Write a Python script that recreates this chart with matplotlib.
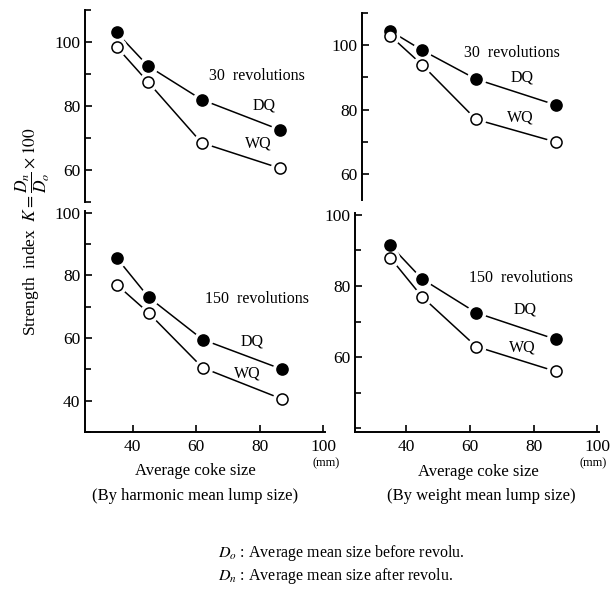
import matplotlib
matplotlib.use("Agg")
import matplotlib.pyplot as plt
from matplotlib.ticker import MultipleLocator

plt.rcParams['font.family'] = ['Liberation Serif', 'DejaVu Serif']
plt.rcParams['mathtext.fontset'] = 'stix'

# coke size (mm) for each sample
size = [35, 45, 62, 87]

# by harmonic mean lump size
hm_dq_30 = [103, 92.5, 82, 72.5]
hm_wq_30 = [98.5, 87.5, 68.5, 60.5]
hm_dq_150 = [85.5, 73, 59.5, 50]
hm_wq_150 = [77, 68, 50.5, 40.5]

# by weight mean lump size
wt_dq_30 = [104.5, 98.5, 89.5, 81.5]
wt_wq_30 = [103, 94, 77, 70]
wt_dq_150 = [91.5, 82, 72.5, 65]
wt_wq_150 = [88, 77, 63, 56]

W, H = 611, 592
fig = plt.figure(figsize=(W / 100, H / 100), dpi=100)


def px_axes(left, top, right, bottom):
    return fig.add_axes([left / W, 1 - bottom / H, (right - left) / W, (bottom - top) / H])


def ftext(x, y, s, **kw):
    fig.text(x / W, 1 - y / H, s, **kw)


def draw(ax, dq, wq, xlim, ylim, yticks, show_x):
    for vals, face in ((dq, 'black'), (wq, 'white')):
        ax.plot(size, vals, color='black', lw=1.1, zorder=1)
        ax.plot(size, vals, 'o', ms=13, mfc='white', mec='white', zorder=2)
        ax.plot(size, vals, 'o', ms=8, mfc=face, mec='black', mew=1.1, zorder=3)
    ax.set_xlim(*xlim)
    ax.set_ylim(*ylim)
    ax.set_yticks(yticks)
    ax.yaxis.set_minor_locator(MultipleLocator(10))
    for s in ('top', 'right'):
        ax.spines[s].set_visible(False)
    ax.spines['left'].set_linewidth(1.4)
    ax.tick_params(axis='y', which='both', direction='in', labelsize=12.5, width=1.2)
    ax.tick_params(axis='y', which='major', length=5)
    ax.tick_params(axis='y', which='minor', length=4)
    if show_x:
        ax.set_xticks([40, 60, 80, 100])
        ax.spines['bottom'].set_linewidth(1.4)
        ax.tick_params(axis='x', direction='in', labelsize=12.5, length=5, width=1.2, pad=5)
    else:
        ax.spines['bottom'].set_visible(False)
        ax.set_xticks([])
    ax.patch.set_visible(False)


ax1 = px_axes(85, 10, 323, 202)
draw(ax1, hm_dq_30, hm_wq_30, (25, 100.5), (50, 110), [60, 80, 100], False)
ax2 = px_axes(85, 211, 325, 432)
draw(ax2, hm_dq_150, hm_wq_150, (25, 100.5), (30, 100.5), [40, 60, 80, 100], True)
ax3 = px_axes(362, 13, 597, 200)
draw(ax3, wt_dq_30, wt_wq_30, (26.2, 100), (52, 110), [60, 80, 100], False)
ax4 = px_axes(355, 213, 599, 432)
draw(ax4, wt_dq_150, wt_wq_150, (24, 100.5), (39, 100.5), [60, 80, 100], True)

fs = 11.5
ftext(257, 76, '30  revolutions', fontsize=fs, ha='center', va='center')
ftext(264, 105, 'DQ', fontsize=fs, ha='center', va='center')
ftext(258, 143, 'WQ', fontsize=fs, ha='center', va='center')
ftext(257, 299, '150  revolutions', fontsize=fs, ha='center', va='center')
ftext(252, 342, 'DQ', fontsize=fs, ha='center', va='center')
ftext(247, 374, 'WQ', fontsize=fs, ha='center', va='center')
ftext(512, 53, '30  revolutions', fontsize=fs, ha='center', va='center')
ftext(522, 77, 'DQ', fontsize=fs, ha='center', va='center')
ftext(520, 117, 'WQ', fontsize=fs, ha='center', va='center')
ftext(521, 278, '150  revolutions', fontsize=fs, ha='center', va='center')
ftext(525, 310, 'DQ', fontsize=fs, ha='center', va='center')
ftext(522, 347, 'WQ', fontsize=fs, ha='center', va='center')

ftext(33, 232, r'Strength  index  $K=\dfrac{D_n}{D_o}\times 100$', fontsize=12.5,
      rotation=90, ha='center', va='center')

ftext(326, 463, '(mm)', fontsize=9, ha='center', va='center')
ftext(593, 463, '(mm)', fontsize=9, ha='center', va='center')
ftext(195, 471, 'Average coke size', fontsize=12, ha='center', va='center')
ftext(195, 496, '(By harmonic mean lump size)', fontsize=12, ha='center', va='center')
ftext(478, 472, 'Average coke size', fontsize=12, ha='center', va='center')
ftext(481, 496, '(By weight mean lump size)', fontsize=12, ha='center', va='center')

ftext(218, 553, r'$D_o$ : Average mean size before revolu.', fontsize=11.5, ha='left', va='center')
ftext(218, 576, r'$D_n$ : Average mean size after revolu.', fontsize=11.5, ha='left', va='center')

fig.savefig('out.png', dpi=100)
